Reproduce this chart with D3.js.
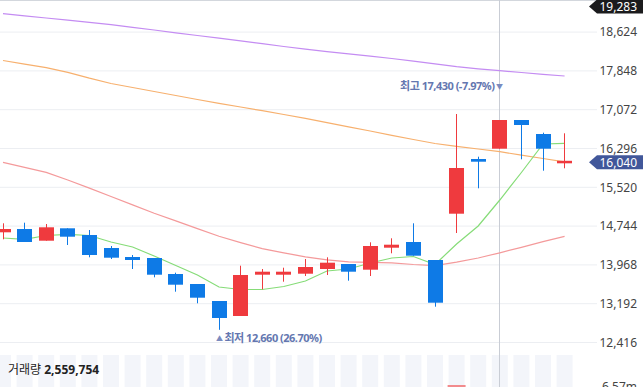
<!DOCTYPE html>
<html>
<head>
<meta charset="utf-8">
<script src="https://cdn.jsdelivr.net/npm/d3@7"></script>
<style>
body { margin: 0; background: #fff; overflow: hidden; }
svg { display: block; font-family: "Noto Sans", "Noto Sans CJK KR", sans-serif; }
</style>
</head>
<body>
<div id="chart"></div>
<script>
// candle data
var opens  = [14610, 14676, 14442, 14690, 14556, 14296, 14116, 14096, 13776, 13576, 13236, 12936, 13762, 13762, 13782, 13876, 13976, 13862, 14302, 14416, 14056, 14982, 16076, 16282, 16856, 16576, 15990];
var highs  = [14790, 14802, 14776, 14690, 14656, 14336, 14156, 14096, 13802, 13576, 13236, 13942, 13876, 13902, 14076, 14110, 13976, 14410, 14490, 14790, 14056, 16976, 16122, 16856, 16856, 16602, 16590];
var lows   = [14470, 14416, 14442, 14356, 14110, 14076, 13876, 13710, 13422, 13190, 12660, 12936, 13470, 13622, 13736, 13756, 13642, 13736, 14190, 14142, 13122, 14596, 15490, 16282, 16070, 15842, 15890];
var closes = [14676, 14416, 14710, 14522, 14156, 14102, 14056, 13762, 13562, 13302, 12896, 13756, 13822, 13822, 13916, 14002, 13822, 14336, 14362, 14142, 13202, 15896, 16022, 16856, 16756, 16282, 16040];
var volumes = [1210000, 980000, 870000, 760000, 1540000, 1120000, 930000, 1680000, 1450000, 1890000, 2760000, 3120000, 1340000, 1010000, 1220000, 1180000, 940000, 1870000, 1260000, 2130000, 3480000, 6570000, 3910000, 2559754, 2870000, 2240000, 1890000];

// moving averages
var ma5   = [14496, 14470, 14546, 14570, 14546, 14416, 14316, 14136, 13946, 13756, 13516, 13466, 13466, 13526, 13636, 13836, 13876, 13996, 14096, 14126, 13966, 14376, 14736, 15256, 15806, 16376, 16390];
var ma20  = [16008, 15908, 15808, 15656, 15494, 15326, 15158, 14992, 14838, 14684, 14530, 14404, 14282, 14198, 14120, 14060, 14018, 14010, 14000, 13966, 13944, 14012, 14096, 14200, 14310, 14422, 14530];
var ma60  = [18046, 17974, 17902, 17810, 17692, 17586, 17506, 17426, 17346, 17266, 17190, 17116, 17042, 16966, 16888, 16804, 16720, 16636, 16550, 16466, 16386, 16330, 16276, 16222, 16154, 16086, 16018];
var ma120 = [18984, 18940, 18896, 18854, 18810, 18762, 18708, 18656, 18600, 18546, 18492, 18438, 18382, 18326, 18274, 18224, 18178, 18134, 18086, 18034, 17978, 17924, 17880, 17842, 17806, 17770, 17736];

var priceTicks = [12416, 13192, 13968, 14744, 15520, 16296, 17072, 17848, 18624];
var topValue = 19283;
var lastValue = 16040;
var volumeMaxLabel = "6.57m";
var hoverIndex = 23;
var highIndex = 23, highValue = 17430, highLabel = "최고 17,430 (-7.97%)";
var lowIndex = 10, lowValue = 12660, lowLabel = "최저 12,660 (26.70%)";
var volumeTitle = "거래량", volumeText = "2,559,754";

var svgWidth = 643;
var svgHeight = 387;
var plotRight = 597;

var svg = d3.select("#chart")
    .append("svg")
    .attr("width", svgWidth)
    .attr("height", svgHeight);

var n = closes.length;
var x = d3.scaleLinear().domain([0, n - 1]).range([3, 564.6]);
var bodyW = 15;

var y = d3.scaleLinear()
    .domain([priceTicks[0], priceTicks[priceTicks.length - 1]])
    .range([342, 31.6]);

var yVol = d3.scaleLinear().domain([0, d3.max(volumes)]).range([470, 385]);

// volume background columns
svg.append("g").selectAll("rect")
    .data(d3.range(n))
    .enter().append("rect")
    .attr("x", i => x(i) - 8)
    .attr("y", 355)
    .attr("width", 16)
    .attr("height", svgHeight - 355)
    .attr("fill", "#f3f5fa");

// volume bars
svg.append("g").selectAll("rect")
    .data(d3.range(n))
    .enter().append("rect")
    .attr("x", i => x(i) - 9)
    .attr("y", i => yVol(volumes[i]))
    .attr("width", 18)
    .attr("height", i => Math.max(0, 470 - yVol(volumes[i])))
    .attr("fill", i => closes[i] >= opens[i] ? "#f28b8d" : "#7fb6f2");

// top border
svg.append("line")
    .attr("x1", 0).attr("x2", svgWidth)
    .attr("y1", 0.5).attr("y2", 0.5)
    .attr("stroke", "#d3d7dd");

// grid + tick labels
var axis = d3.axisRight(y)
    .tickValues(priceTicks)
    .tickSize(plotRight)
    .tickFormat(d3.format(","));
var axisG = svg.append("g").call(axis);
axisG.select(".domain").remove();
axisG.selectAll(".tick line")
    .attr("stroke", "#eceef2");
axisG.selectAll(".tick text")
    .attr("x", 637)
    .attr("dy", "0.35em")
    .attr("text-anchor", "end")
    .attr("fill", "#444")
    .style("font-size", "12px")
    .style("font-family", "'Noto Sans', sans-serif");

// crosshair
var cx = Math.floor(x(hoverIndex)) + 0.5;
svg.append("line")
    .attr("x1", cx).attr("x2", cx)
    .attr("y1", 0).attr("y2", svgHeight)
    .attr("stroke", "#c9cdd5");

// moving average lines
var maLines = [
    {values: ma120, color: "#c48cf2"},
    {values: ma60, color: "#f7b06e"},
    {values: ma20, color: "#f49a9b"},
    {values: ma5, color: "#86dc78"}
];
var line = d3.line().x((d, i) => x(i)).y(d => y(d));
maLines.forEach(function(m) {
    svg.append("path")
        .datum(m.values)
        .attr("d", line)
        .attr("fill", "none")
        .attr("stroke", m.color)
        .attr("stroke-width", 1.2);
});

// candles
var candles = svg.append("g").selectAll("g")
    .data(d3.range(n))
    .enter().append("g");

var red = "#ef3a3e", blue = "#0e7ae6";
candles.append("line")
    .attr("x1", i => Math.floor(x(i)) + 0.5)
    .attr("x2", i => Math.floor(x(i)) + 0.5)
    .attr("y1", i => y(highs[i]))
    .attr("y2", i => y(lows[i]))
    .attr("stroke", i => closes[i] >= opens[i] ? red : blue);

candles.append("rect")
    .attr("x", i => Math.floor(x(i)) + 0.5 - bodyW / 2)
    .attr("y", i => y(Math.max(opens[i], closes[i])))
    .attr("width", bodyW)
    .attr("height", i => Math.max(2.5, Math.abs(y(opens[i]) - y(closes[i]))))
    .attr("fill", i => closes[i] >= opens[i] ? red : blue);

// high / low annotations
var hx = Math.floor(x(highIndex)) + 0.5;
var hy = y(highValue) - 5;
svg.append("text")
    .attr("x", hx).attr("y", hy + 3)
    .attr("text-anchor", "middle")
    .attr("fill", "#7a8bbf")
    .style("font-size", "7px")
    .text("▼");
svg.append("text")
    .attr("x", hx - 5).attr("y", hy + 4)
    .attr("text-anchor", "end")
    .attr("fill", "#6477b0")
    .style("font-size", "11px")
    .style("font-weight", "bold")
    .style("letter-spacing", "-0.5px")
    .text(highLabel);

var lx = Math.floor(x(lowIndex)) + 0.5;
var ly = y(lowValue) + 8;
svg.append("text")
    .attr("x", lx).attr("y", ly + 3)
    .attr("text-anchor", "middle")
    .attr("fill", "#7a8bbf")
    .style("font-size", "7px")
    .text("▲");
svg.append("text")
    .attr("x", lx + 5).attr("y", ly + 4)
    .attr("fill", "#6477b0")
    .style("font-size", "11px")
    .style("font-weight", "bold")
    .style("letter-spacing", "-0.5px")
    .text(lowLabel);

// price markers on the right
function marker(cy, fill, label) {
    var p = d3.path();
    p.moveTo(589, cy);
    p.lineTo(597, cy - 7);
    p.lineTo(svgWidth, cy - 7);
    p.lineTo(svgWidth, cy + 7);
    p.lineTo(597, cy + 7);
    p.closePath();
    svg.append("path").attr("d", p.toString()).attr("fill", fill);
    svg.append("text")
        .attr("x", 637).attr("y", cy)
        .attr("dy", "0.35em")
        .attr("text-anchor", "end")
        .attr("fill", "#fff")
        .style("font-size", "12px")
        .text(d3.format(",")(label));
}
marker(Math.max(y(topValue), 0) + 6.5, "#1b1b1d", topValue);
marker(y(lastValue) + 1.5, "#41579a", lastValue);

// volume info
var vt = svg.append("text")
    .attr("x", 8).attr("y", 374)
    .attr("fill", "#222")
    .style("font-size", "12px");
vt.append("tspan").text(volumeTitle + " ");
vt.append("tspan").style("font-weight", "bold").text(volumeText);

svg.append("text")
    .attr("x", 637).attr("y", 391)
    .attr("text-anchor", "end")
    .attr("fill", "#444")
    .style("font-size", "12px")
    .text(volumeMaxLabel);
</script>
</body>
</html>
